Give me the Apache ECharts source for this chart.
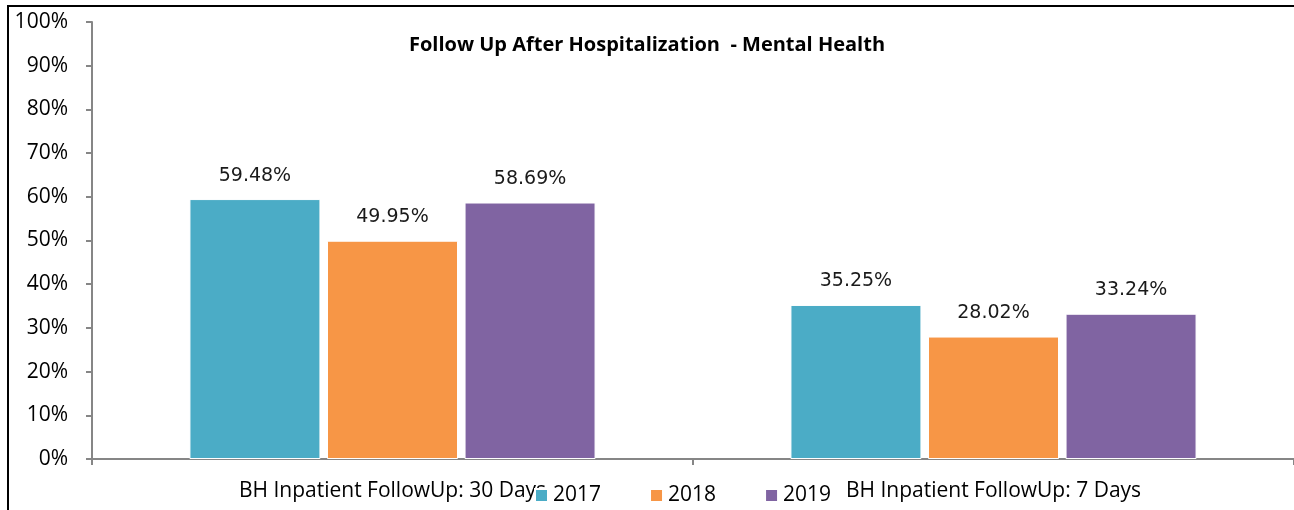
<!DOCTYPE html>
<html>
<head>
<meta charset="utf-8">
<script src="https://cdn.jsdelivr.net/npm/echarts@6/dist/echarts.min.js"></script>
<style>
  html, body { margin: 0; padding: 0; background: #fff; }
  #chart { width: 1294px; height: 510px; }
</style>
</head>
<body>
<div id="chart"></div>
<script>
// categories and yearly values (percent)
const categories = ['BH Inpatient FollowUp: 30 Days', 'BH Inpatient FollowUp: 7 Days']
const years = ['2017', '2018', '2019']
const values2017 = [59.48, 35.25]
const values2018 = [49.95, 28.02]
const values2019 = [58.69, 33.24]
const yTicks = [0, 10, 20, 30, 40, 50, 60, 70, 80, 90, 100]

const colors = ['#4BACC6', '#F79646', '#8064A2']
const font = '"Open Sans", Lato, sans-serif'

const chart = echarts.init(document.getElementById('chart'))

const makeSeries = (name, data, color) => ({
  name: name,
  type: 'bar',
  data: data,
  barWidth: 131,
  barGap: '5%',
  itemStyle: { color: color, borderColor: '#fff', borderWidth: 1 },
  label: {
    show: true,
    position: 'top',
    distance: 14,
    formatter: p => p.value.toFixed(2) + '%',
    fontFamily: '"DejaVu Sans", sans-serif',
    fontSize: 19,
    color: '#1a1a1a'
  }
})

chart.setOption({
  animation: false,
  color: colors,
  title: {
    text: 'Follow Up After Hospitalization  - Mental Health',
    left: 'center',
    top: 30,
    textStyle: { fontFamily: font, fontSize: 20, fontWeight: 'bold', color: '#000' }
  },
  legend: {
    data: years,
    left: 529,
    top: 480,
    itemWidth: 13,
    itemHeight: 13,
    itemGap: 48,
    icon: 'rect',
    textStyle: { fontFamily: font, fontSize: 21, color: '#000' }
  },
  grid: { left: 92, right: -2, top: 22, bottom: 51, containLabel: false },
  xAxis: {
    type: 'category',
    data: categories,
    axisLine: { lineStyle: { color: '#868686', width: 2 } },
    axisTick: { show: true, length: 6, lineStyle: { color: '#868686', width: 2 } },
    axisLabel: { margin: 22, fontFamily: font, fontSize: 21, color: '#000' }
  },
  yAxis: {
    type: 'value',
    min: yTicks[0],
    max: yTicks[yTicks.length - 1],
    interval: 10,
    splitLine: { show: false },
    axisLine: { show: true, lineStyle: { color: '#868686', width: 2 } },
    axisTick: { show: true, length: 6, lineStyle: { color: '#868686', width: 2 } },
    axisLabel: { margin: 24, formatter: '{value}%', fontFamily: font, fontSize: 21, color: '#000' }
  },
  graphic: [
    { type: 'line', shape: { x1: 7, y1: 6, x2: 1294, y2: 6 }, style: { stroke: '#000', lineWidth: 2 } },
    { type: 'line', shape: { x1: 8, y1: 6, x2: 8, y2: 510 }, style: { stroke: '#000', lineWidth: 2 } }
  ],
  series: [
    makeSeries(years[0], values2017, colors[0]),
    makeSeries(years[1], values2018, colors[1]),
    makeSeries(years[2], values2019, colors[2])
  ]
})
</script>
</body>
</html>
